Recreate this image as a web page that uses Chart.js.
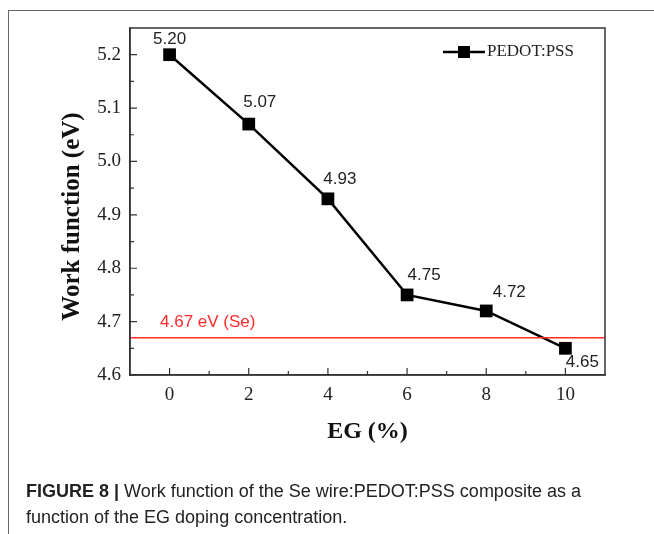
<!DOCTYPE html>
<html>
<head>
<meta charset="utf-8">
<script src="https://cdn.jsdelivr.net/npm/chart.js@4.4.1/dist/chart.umd.min.js"></script>
<style>
  html, body { margin: 0; padding: 0; background: #fff; }
  #wrap { position: relative; width: 654px; height: 534px; overflow: hidden; }
  #frame { position: absolute; left: 8px; top: 10px; width: 700px; height: 600px;
           border-top: 1px solid #666; border-left: 1px solid #666; }
  #chart { position: absolute; left: 0; top: 0; }
  #caption { position: absolute; left: 26px; top: 478px; font-family: "Liberation Sans", Arial, sans-serif;
             font-size: 18px; line-height: 26px; color: #222; white-space: nowrap; }
</style>
</head>
<body>
<div id="wrap">
  <div id="frame"></div>
  <canvas id="chart" width="654" height="534"></canvas>
  <div id="caption"><b>FIGURE 8 |</b> Work function of the Se wire:PEDOT:PSS composite as a<br>function of the EG doping concentration.</div>
</div>
<script>
// datos
const egValues = [0, 2, 4, 6, 8, 10];
const workFunction = [5.20, 5.07, 4.93, 4.75, 4.72, 4.65];
const valueLabels = ["5.20", "5.07", "4.93", "4.75", "4.72", "4.65"];
const xTicks = [0, 2, 4, 6, 8, 10];
const yTicks = [4.6, 4.7, 4.8, 4.9, 5.0, 5.1, 5.2];
const seValue = 4.67;
const seLabel = "4.67 eV (Se)";
const seriesName = "PEDOT:PSS";
const yTitle = "Work function (eV)";

// desplazamiento de cada etiqueta respecto a su punto (px)
const labelOffsets = [[0, -15], [11, -22], [12, -20], [17, -20], [23, -19], [17, 14]];

const serif = "'Liberation Serif', 'Times New Roman', serif";
const sans = "'Liberation Sans', Arial, sans-serif";
const axisColor = "#333";

function midpoints(arr) {
  const out = [];
  for (let i = 0; i < arr.length - 1; i++) out.push((arr[i] + arr[i + 1]) / 2);
  return out;
}

const extras = {
  id: "extras",
  afterDatasetsDraw(chart) {
    const { ctx, chartArea: a, scales: { x, y } } = chart;
    ctx.save();

    // linea de referencia del Se
    const ySe = y.getPixelForValue(seValue);
    ctx.strokeStyle = "#ff2a2a";
    ctx.lineWidth = 1.5;
    ctx.beginPath();
    ctx.moveTo(a.left, ySe);
    ctx.lineTo(a.right, ySe);
    ctx.stroke();
    ctx.fillStyle = "#ff2a2a";
    ctx.font = "17px " + sans;
    ctx.textAlign = "left";
    ctx.textBaseline = "middle";
    ctx.fillText(seLabel, a.left + 30, ySe - 15);

    // etiquetas de los valores
    const meta = chart.getDatasetMeta(0);
    ctx.fillStyle = "#222";
    ctx.textAlign = "center";
    meta.data.forEach((pt, i) => {
      const [dx, dy] = labelOffsets[i];
      ctx.fillText(valueLabels[i], pt.x + dx, pt.y + dy);
    });

    // marco completo
    ctx.strokeStyle = axisColor;
    ctx.lineWidth = 1.5;
    ctx.strokeRect(a.left, a.top, a.right - a.left, a.bottom - a.top);

    // ticks hacia dentro
    ctx.lineWidth = 1.2;
    ctx.beginPath();
    xTicks.forEach(v => {
      const px = x.getPixelForValue(v);
      ctx.moveTo(px, a.bottom); ctx.lineTo(px, a.bottom - 7);
    });
    midpoints(xTicks).forEach(v => {
      const px = x.getPixelForValue(v);
      ctx.moveTo(px, a.bottom); ctx.lineTo(px, a.bottom - 4);
    });
    yTicks.forEach(v => {
      const py = y.getPixelForValue(v);
      ctx.moveTo(a.left, py); ctx.lineTo(a.left + 7, py);
    });
    midpoints(yTicks).forEach(v => {
      const py = y.getPixelForValue(v);
      ctx.moveTo(a.left, py); ctx.lineTo(a.left + 4, py);
    });
    ctx.stroke();

    // titulo del eje y (un poco por debajo del centro, como en la figura)
    ctx.save();
    ctx.translate(73, (a.top + a.bottom) / 2 + 15);
    ctx.rotate(-Math.PI / 2);
    ctx.fillStyle = "#111";
    ctx.font = "bold 25px " + serif;
    ctx.textAlign = "center";
    ctx.fillText(yTitle, 0, 0);
    ctx.restore();

    // leyenda
    const lx = a.right - 162, ly = a.top + 24;
    ctx.strokeStyle = "#000";
    ctx.lineWidth = 2.5;
    ctx.beginPath();
    ctx.moveTo(lx, ly); ctx.lineTo(lx + 42, ly);
    ctx.stroke();
    ctx.fillStyle = "#000";
    ctx.fillRect(lx + 15, ly - 6, 12, 12);
    ctx.fillStyle = "#222";
    ctx.font = "17px " + serif;
    ctx.textAlign = "left";
    ctx.fillText(seriesName, lx + 44, ly);

    ctx.restore();
  }
};

new Chart(document.getElementById("chart"), {
  type: "line",
  data: {
    datasets: [{
      label: seriesName,
      data: egValues.map((v, i) => ({ x: v, y: workFunction[i] })),
      borderColor: "#000",
      backgroundColor: "#000",
      borderWidth: 2.5,
      pointStyle: "rect",
      pointRadius: 9,
      pointBorderWidth: 0,
      pointHoverRadius: 9,
      tension: 0
    }]
  },
  options: {
    responsive: false,
    animation: false,
    devicePixelRatio: 1,
    layout: { padding: { left: 0, top: 28, right: 49, bottom: 84 } },
    plugins: { legend: { display: false }, tooltip: { enabled: false } },
    scales: {
      x: {
        type: "linear",
        min: -1,
        max: 11,
        afterBuildTicks: s => { s.ticks = xTicks.map(v => ({ value: v })); },
        afterFit: s => { s.height = 75; },
        grid: { display: false, drawTicks: false },
        border: { display: true, color: axisColor, width: 1.5 },
        ticks: { padding: 9, color: "#222", font: { family: serif, size: 19 }, callback: v => String(v) },
        title: { display: true, text: "EG (%)", color: "#111",
                 font: { family: serif, size: 24, weight: "bold" }, padding: { top: 0, bottom: 4 } }
      },
      y: {
        min: 4.6,
        max: 5.25,
        afterBuildTicks: s => { s.ticks = yTicks.map(v => ({ value: v })); },
        afterFit: s => { s.width = 130; },
        grid: { display: false, drawTicks: false },
        border: { display: true, color: axisColor, width: 1.5 },
        ticks: { padding: 9, color: "#222", font: { family: serif, size: 19 }, callback: v => v.toFixed(1) },
        title: { display: false }
      }
    }
  },
  plugins: [extras]
});
</script>
</body>
</html>
